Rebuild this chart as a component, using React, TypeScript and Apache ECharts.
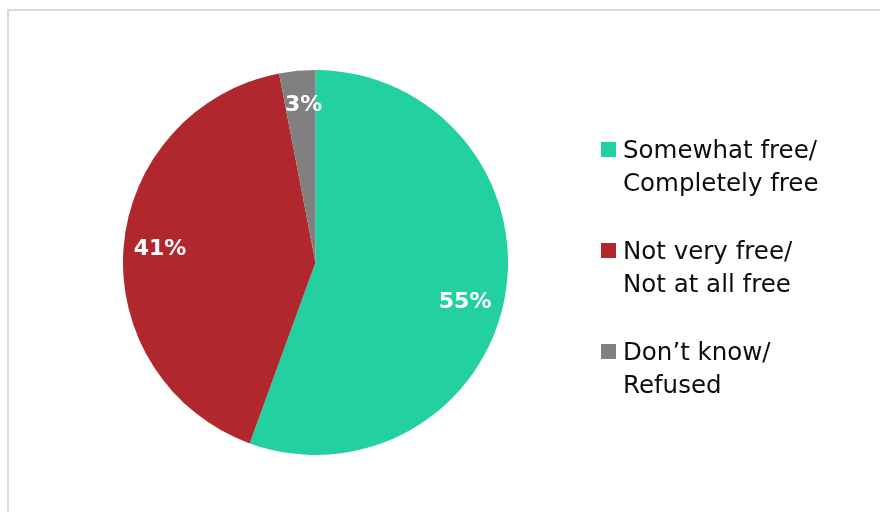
import React, { useEffect, useRef } from "react";
import * as echarts from "echarts";

const categories = ["Somewhat free/\nCompletely free", "Not very free/\nNot at all free", "Don’t know/\nRefused"];
const values = [55, 41, 3];
const labels = ["55%", "41%", "3%"];
const colors = ["#23D0A0", "#B0282E", "#808080"];
const labelOffsets = [[-4, 11], [0, -3], [3, -4]];

export default function App() {
  const ref = useRef<HTMLDivElement>(null);
  useEffect(() => {
    const chart = echarts.init(ref.current!, null, { renderer: "svg" });
    const data = categories.map((name, i) => ({ name, value: values[i], itemStyle: { color: colors[i] } }));
    chart.setOption({
      animation: false,
      graphic: [
        {
          type: "rect",
          shape: { x: 8, y: 10, width: 900, height: 600 },
          style: { fill: "none", stroke: "#d9d9d9", lineWidth: 2 },
          silent: true,
        },
      ],
      legend: {
        orient: "vertical",
        left: 601,
        top: 100,
        padding: 0,
        itemWidth: 15,
        itemHeight: 15,
        itemGap: 2,
        icon: "rect",
        formatter: (name: string) => " \n" + name,
        textStyle: {
          fontFamily: "DejaVu Sans",
          fontSize: 24.5,
          lineHeight: 33,
          color: "#0d0d0d",
          padding: [0, 0, 0, 2],
        },
        data: categories,
      },
      series: [
        {
          type: "pie",
          center: [315.5, 262.5],
          radius: [0, 192.5],
          startAngle: 90,
          clockwise: true,
          label: { show: false },
          labelLine: { show: false },
          silent: true,
          data,
        },
        {
          type: "pie",
          center: [315.5, 262.5],
          radius: [113.5, 192.5],
          startAngle: 90,
          clockwise: true,
          silent: true,
          itemStyle: { color: "rgba(0,0,0,0)" },
          label: {
            show: true,
            position: "inside",
            formatter: (p: any) => labels[p.dataIndex],
            color: "#fff",
            fontFamily: "DejaVu Sans",
            fontWeight: "bold",
            fontSize: 22,
          },
          labelLine: { show: false },
          data: categories.map((name, i) => ({
            name: name + " ",
            value: values[i],
            itemStyle: { color: "rgba(0,0,0,0)" },
            label: { offset: labelOffsets[i] },
          })),
        },
      ],
    });
    return () => chart.dispose();
  }, []);
  return <div ref={ref} style={{ position: "fixed", left: 0, top: 0, width: 880, height: 512 }} />;
}
